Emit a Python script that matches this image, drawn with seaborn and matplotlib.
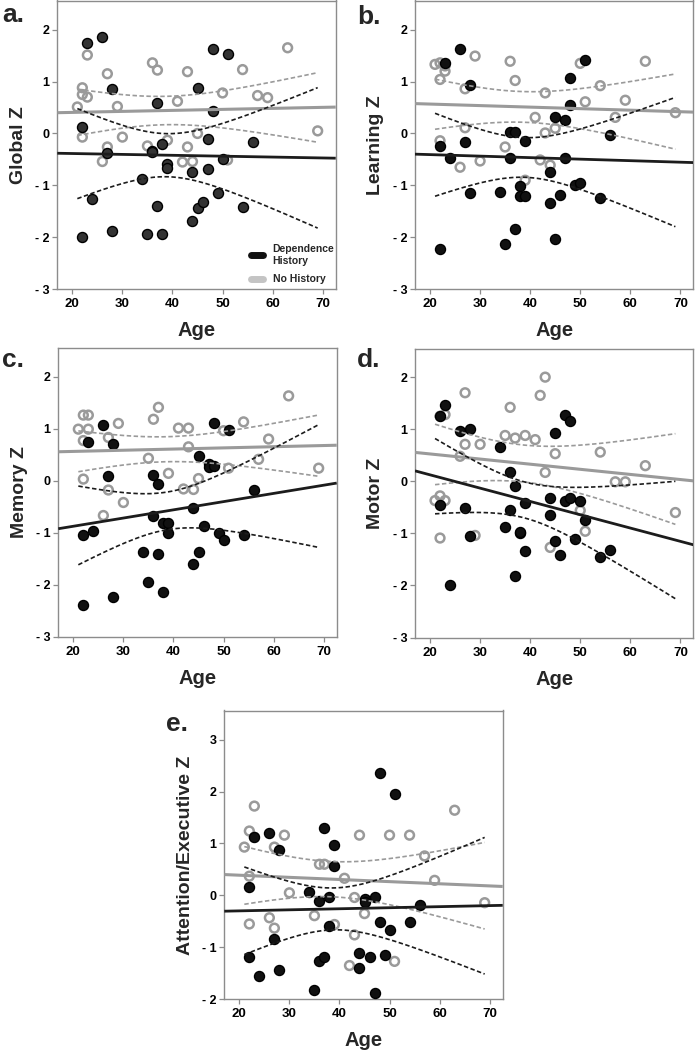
import numpy as np
import pandas as pd
import matplotlib
matplotlib.use("Agg")
import matplotlib.pyplot as plt
import seaborn as sns
from matplotlib.lines import Line2D

# ---------------- data ----------------
dh_age = [22, 22, 23, 24, 26, 27, 28, 28, 34, 35, 36, 36, 37, 37, 38, 38, 39, 39,
          44, 44, 45, 45, 46, 47, 47, 48, 48, 49, 50, 51, 54, 56]
nh_age = [21, 22, 22, 22, 23, 23, 26, 27, 27, 29, 30, 35, 36, 37, 39, 41, 42, 43,
          43, 44, 45, 50, 51, 54, 57, 59, 63, 69]

global_dh = [0.13, -1.99, 1.74, -1.26, 1.85, -0.37, 0.85, -1.88, -0.87, -1.94, -0.33, -0.35,
             0.58, -1.39, -0.21, -1.94, -0.59, -0.66, -0.74, -1.68, 0.87, -1.44, -1.31, -0.10,
             -0.69, 1.62, 0.43, -1.15, -0.50, 1.53, -1.42, -0.17]
global_nh = [0.51, 0.88, 0.75, -0.07, 1.51, 0.70, -0.54, 1.15, -0.26, 0.52, -0.07, -0.24, 1.36,
             1.22, -0.13, 0.62, -0.55, 1.19, -0.26, -0.54, 0.00, 0.78, -0.51, 1.23, 0.73, 0.69,
             1.65, 0.05]

learning_dh = [-0.24, -2.23, 1.36, -0.48, 1.62, -0.17, 0.94, -1.14, -1.12, -2.13, 0.03, -0.48,
               0.03, -1.84, -1.02, -1.20, -0.15, -1.20, -0.74, -1.33, 0.31, -2.03, -1.18, 0.25,
               -0.48, 1.07, 0.55, -0.99, -0.95, 1.42, -1.24, -0.02]
learning_nh = [1.33, 1.36, 1.04, -0.14, 1.20, 1.30, -0.65, 0.86, 0.11, 1.49, -0.53, -0.26, 1.39,
               1.02, -0.90, 0.31, -0.51, 0.78, 0.01, -0.61, 0.10, 1.35, 0.61, 0.92, 0.31, 0.64,
               1.39, 0.40]

memory_dh = [-1.04, -2.40, 0.74, -0.96, 1.07, 0.08, 0.71, -2.24, -1.38, -1.94, 0.11, -0.68,
             -0.07, -1.41, -0.82, -2.15, -0.82, -1.01, -0.52, -1.60, 0.48, -1.37, -0.88, 0.32,
             0.26, 1.10, 0.28, -1.01, -1.14, 0.97, -1.04, -0.18]
memory_nh = [0.99, 1.26, 0.77, 0.03, 1.26, 0.99, -0.67, 0.83, -0.18, 1.10, -0.42, 0.43, 1.18,
             1.41, 0.14, 1.01, -0.16, 1.01, 0.65, -0.17, 0.04, 0.96, 0.24, 1.13, 0.41, 0.80,
             1.63, 0.24]

motor_dh = [1.25, -0.46, 1.47, -1.99, 0.97, -0.51, 1.00, -1.06, 0.65, -0.87, 0.17, -0.56,
            -0.10, -1.81, -1.00, -0.98, -0.42, -1.33, -0.33, -0.64, 0.93, -1.14, -1.41, 1.28,
            -0.38, 1.15, -0.33, -1.10, -0.37, -0.74, -1.46, -1.32]
motor_nh = [-0.37, -0.28, -1.09, 1.25, -0.37, 1.28, 0.48, 1.70, 0.71, -1.04, 0.71, 0.88, 1.42,
            0.83, 0.88, 0.80, 1.65, 0.17, 2.00, -1.27, 0.53, -0.56, -0.96, 0.56, -0.01, -0.01,
            0.30, -0.60]

attn_dh = [0.17, -1.19, 1.12, -1.55, 1.21, -0.83, 0.88, -1.43, 0.06, -1.83, -0.11, -1.27,
           1.29, -1.19, -0.04, -0.59, 0.97, 0.56, -1.11, -1.40, -0.07, -0.12, -1.19, -0.04,
           -1.87, 2.36, -0.52, -1.15, -0.67, 1.96, -0.52, -0.19]
attn_nh = [0.93, 1.24, 0.37, -0.55, 1.72, 1.12, -0.43, 0.93, -0.63, 1.16, 0.05, -0.39, 0.60,
           0.60, -0.56, 0.33, -1.35, -0.04, -0.76, 1.16, -0.35, 1.16, -1.27, 1.16, 0.76, 0.29,
           1.64, -0.14]

panel_letters = ["a.", "b.", "c.", "d.", "e."]
y_labels = ["Global Z", "Learning Z", "Memory Z", "Motor Z", "Attention/Executive Z"]
x_ticks = [20, 30, 40, 50, 60, 70]
group_names = ["Dependence History", "No History"]
legend_labels = ["Dependence\nHistory", "No History"]

# ---------------- style ----------------
sns.set_theme(style="white")
plt.rcParams["font.family"] = ["Liberation Sans", "DejaVu Sans"]
plt.rcParams["lines.scale_dashes"] = False

BLACK = "#1c1c1c"
GRAY = "#9a9a9a"
SPINE = "#8c8c8c"

W, H = 695, 1050
fig = plt.figure(figsize=(W / 100, H / 100), dpi=100)

# axes boxes in pixels: left, top, width, height
boxes = [(57.3, 0.5, 278.4, 288.8),
         (415.0, 0.5, 278.4, 288.8),
         (58.3, 348.0, 278.4, 288.7),
         (415.0, 348.5, 278.4, 289.0),
         (224.3, 710.5, 278.4, 288.8)]
ylims = [(-3, 2.56), (-3, 2.56), (-3, 2.55), (-3, 2.55), (-2, 3.56)]
yticks = [list(range(-3, 3))] * 4 + [list(range(-2, 4))]

datasets = [(global_dh, global_nh), (learning_dh, learning_nh), (memory_dh, memory_nh),
            (motor_dh, motor_nh), (attn_dh, attn_nh)]


def t975(df):
    z = 1.959964
    return z + (z**3 + z) / (4 * df) + (5 * z**5 + 16 * z**3 + 3 * z) / (96 * df**2)


def fit_ci(x, y, grid):
    x = np.asarray(x, float)
    y = np.asarray(y, float)
    n = len(x)
    b, a = np.polyfit(x, y, 1)
    res = y - (a + b * x)
    s = np.sqrt(np.sum(res**2) / (n - 2))
    sxx = np.sum((x - x.mean())**2)
    yhat = a + b * grid
    half = t975(n - 2) * s * np.sqrt(1.0 / n + (grid - x.mean())**2 / sxx)
    return a, b, yhat - half, yhat + half


all_ages = dh_age + nh_age
ci_grid = np.linspace(min(all_ages), max(all_ages), 200)

for i, (dh_vals, nh_vals) in enumerate(datasets):
    l, t, w, h = boxes[i]
    ax = fig.add_axes([l / W, 1 - (t + h) / H, w / W, h / H])
    df = pd.DataFrame({
        "Age": dh_age + nh_age,
        "Z": dh_vals + nh_vals,
        "Group": [group_names[0]] * len(dh_age) + [group_names[1]] * len(nh_age),
    })
    sub_nh = df[df.Group == group_names[1]]
    sub_dh = df[df.Group == group_names[0]]
    sns.scatterplot(data=sub_nh, x="Age", y="Z", ax=ax, marker="o", s=40,
                    facecolor="none", edgecolor=GRAY, linewidth=1.8, legend=False, zorder=3)
    dh_face = "#333333" if i == 0 else "#111111"
    sns.scatterplot(data=sub_dh, x="Age", y="Z", ax=ax, marker="o", s=52,
                    color=dh_face, edgecolor="#000000", linewidth=1.0, legend=False, zorder=4)

    xl = (17.0, 72.6)
    line_x = np.array(xl)
    for ages, vals, col, lw in [(nh_age, nh_vals, GRAY, 2.2), (dh_age, dh_vals, BLACK, 2.0)]:
        a, b, lo, hi = fit_ci(ages, vals, ci_grid)
        ax.plot(line_x, a + b * line_x, color=col, lw=lw, zorder=5, solid_capstyle="butt")
        ax.plot(ci_grid, lo, color=col, lw=1.2, dashes=(3.2, 1.8), zorder=5)
        ax.plot(ci_grid, hi, color=col, lw=1.2, dashes=(3.2, 1.8), zorder=5)

    ax.set_xlim(*xl)
    ax.set_ylim(*ylims[i])
    ax.set_xticks(x_ticks)
    ax.set_xticklabels([str(v) for v in x_ticks], fontsize=9.5, fontweight="bold")
    ax.set_yticks(yticks[i])
    ax.set_yticklabels([("- %d" % -v) if v < 0 else str(v) for v in yticks[i]],
                       fontsize=9, fontweight="bold")
    for sp in ax.spines.values():
        sp.set_color(SPINE)
        sp.set_linewidth(1.0)
    ax.tick_params(axis="both", which="major", direction="out", length=3.5, width=0.9,
                   color=SPINE, labelcolor="black", pad=2, left=True, bottom=True)
    ax.tick_params(axis="x", pad=3)
    ax.set_xlabel("Age", fontsize=14.5, fontweight="bold", labelpad=8)
    ax.set_ylabel(y_labels[i], fontsize=14, fontweight="bold", labelpad=6)

    if i == 0:
        handles = [Line2D([0], [0], color="#111111", lw=5),
                   Line2D([0], [0], color="#c4c4c4", lw=5)]
        ax.legend(handles, legend_labels, loc="lower right", bbox_to_anchor=(1.025, -0.012),
                  frameon=False, prop={"size": 7.5, "weight": "bold"}, handlelength=1.2,
                  handletextpad=0.9, labelspacing=0.85, borderpad=0.3)

# panel letters
letter_pos = [(2, 22), (357, 24), (2, 367), (357, 367), (166, 731)]
for (px, py), letter in zip(letter_pos, panel_letters):
    fig.text(px / W, 1 - py / H, letter, fontsize=19, fontweight="bold", ha="left",
             va="baseline")

fig.savefig("out.png", dpi=100)
